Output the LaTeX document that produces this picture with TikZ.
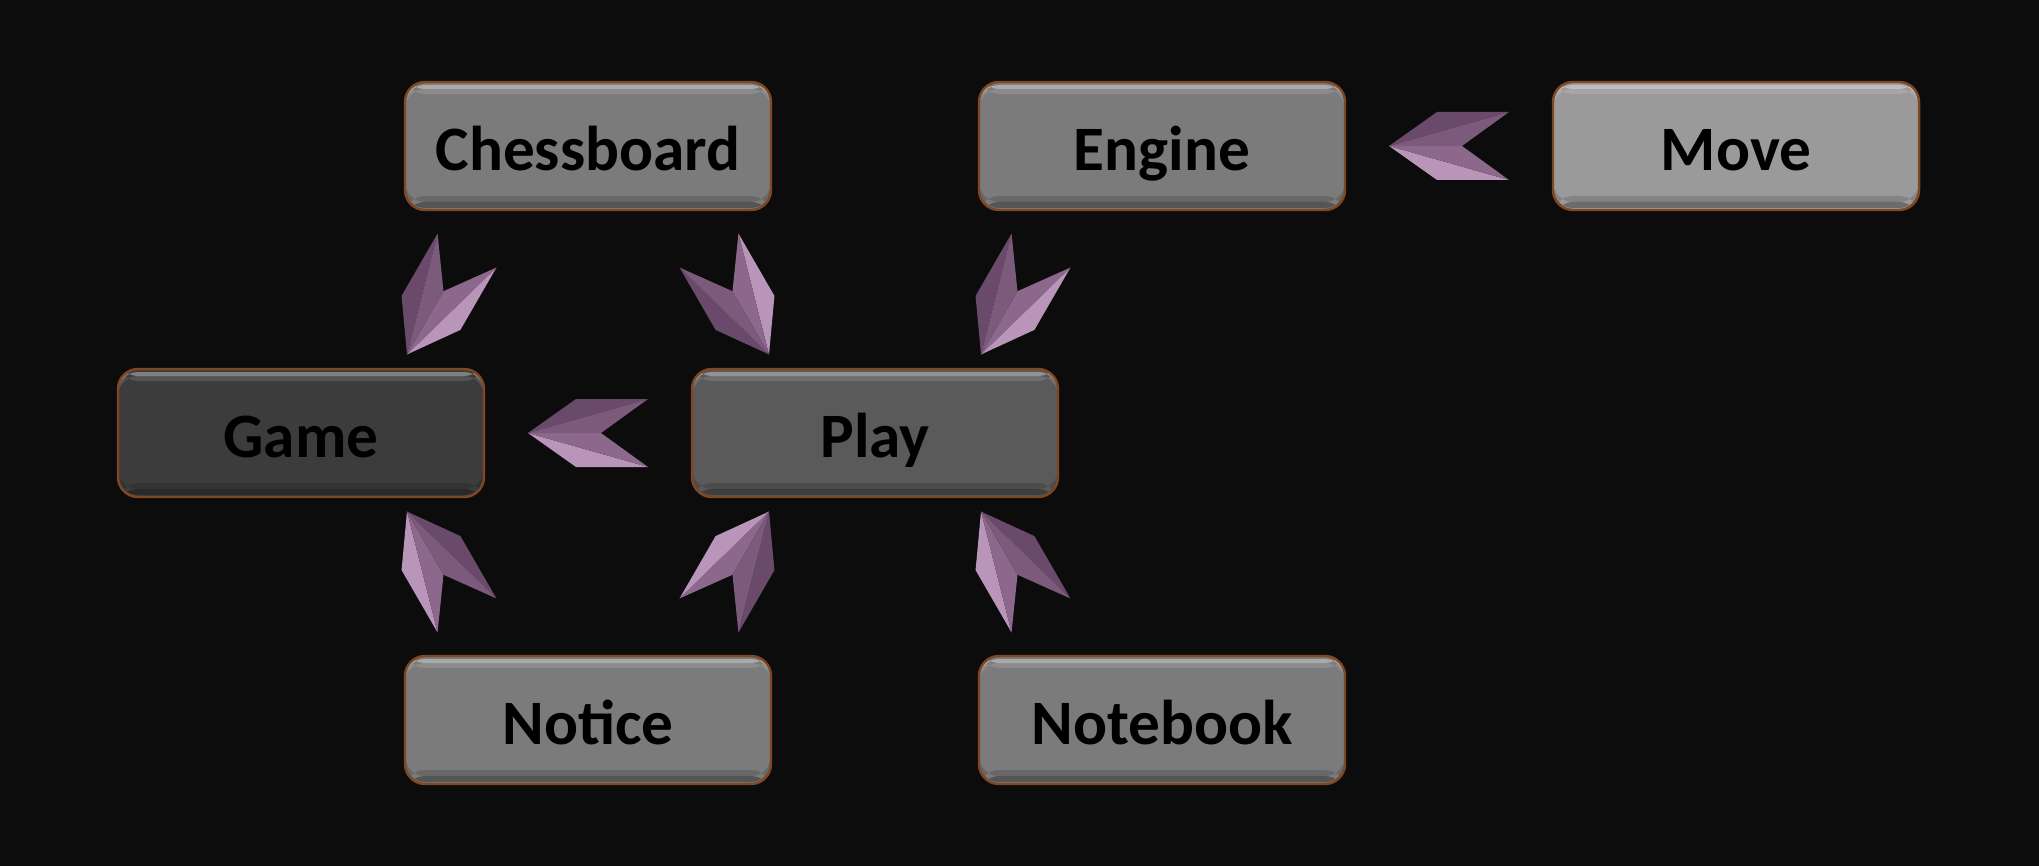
\documentclass[tikz,border=0pt]{standalone}
\usepackage{fontspec}
\setmainfont{Carlito}
\usetikzlibrary{positioning,calc}
\definecolor{bgC}{HTML}{0C0C0C}
\definecolor{edgeC}{HTML}{7F4722}
\definecolor{boxC}{HTML}{7B7B7B}
\definecolor{moveC}{HTML}{9A9A9A}
\definecolor{playC}{HTML}{5A5A5A}
\definecolor{gameC}{HTML}{3C3C3C}
\definecolor{chevA}{HTML}{B995B9}
\definecolor{chevB}{HTML}{8C688C}
\definecolor{chevC}{HTML}{6A4A6A}
\definecolor{chevD}{HTML}{7C5A7C}
\begin{document}
\begin{tikzpicture}[node distance=2.87cm, on grid,
  box/.style={draw=edgeC, line width=0.7pt, rounded corners=0.2cm, fill=boxC,
    minimum width=3.66cm, minimum height=1.28cm, text=black,
    text height=14pt, text depth=0pt,
    font=\fontsize{18}{22}\selectfont\bfseries,
    path picture={
      \fill[white, opacity=0.35] ([yshift=-0.03cm]path picture bounding box.north west) rectangle ([yshift=-0.07cm]path picture bounding box.north east);
      \fill[white, opacity=0.12] ([yshift=-0.07cm]path picture bounding box.north west) rectangle ([yshift=-0.12cm]path picture bounding box.north east);
      \fill[black, opacity=0.15] ([yshift=0.14cm]path picture bounding box.south west) rectangle ([yshift=0.08cm]path picture bounding box.south east);
      \fill[black, opacity=0.3] ([yshift=0.08cm]path picture bounding box.south west) rectangle ([yshift=0.02cm]path picture bounding box.south east);
    }},
  chev/.pic={
    \begin{scope}[xshift=#1cm]
    \fill[chevA] (0.60,0) -- (0.12,0.34) -- (-0.60,0.34) -- cycle;
    \fill[chevB] (0.60,0) -- (-0.60,0.34) -- (-0.13,0) -- cycle;
    \fill[chevC] (0.60,0) -- (0.12,-0.34) -- (-0.60,-0.34) -- cycle;
    \fill[chevD] (0.60,0) -- (-0.60,-0.34) -- (-0.13,0) -- cycle;
    \end{scope}
  }]
\path[use as bounding box, fill=bgC] (-8.75,-4.33) rectangle (11.64,4.33);

\node[box, fill=playC] (play) {Play};
\node[box, fill=gameC] (game) [left=5.74cm of play] {Game};
\node[box] (chess) [above left=2.87cm and 2.87cm of play] {Chessboard};
\node[box] (engine) [above right=2.87cm and 2.87cm of play] {Engine};
\node[box, fill=moveC] (move) [right=5.74cm of engine] {Move};
\node[box] (notice) [below left=2.87cm and 2.87cm of play] {Notice};
\node[box] (notebook) [below right=2.87cm and 2.87cm of play] {Notebook};

\pic[rotate=180] at ($(move)!0.5!(engine)$) {chev=0};
\pic[rotate=180] at ($(play)!0.5!(game)$) {chev=0};
\pic[rotate=240] at ($(chess)!0.5!(game)$) {chev=0.15};
\pic[rotate=300] at ($(chess)!0.5!(play)$) {chev=0.15};
\pic[rotate=240] at ($(engine)!0.5!(play)$) {chev=0.15};
\pic[rotate=120] at ($(notice)!0.5!(game)$) {chev=0.15};
\pic[rotate=60] at ($(notice)!0.5!(play)$) {chev=0.15};
\pic[rotate=120] at ($(notebook)!0.5!(play)$) {chev=0.15};

\end{tikzpicture}
\end{document}
